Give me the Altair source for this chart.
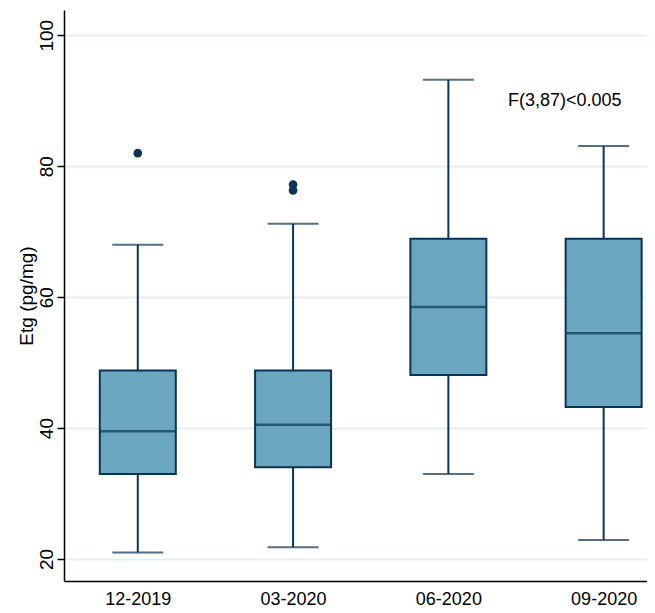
import altair as alt
import pandas as pd

categories = ["12-2019", "03-2020", "06-2020", "09-2020"]
positions = [1, 2, 3, 4]
lower = [21.0, 21.8, 33.0, 22.9]
q1 = [33.0, 34.0, 48.1, 43.2]
median = [39.5, 40.5, 58.5, 54.5]
q3 = [48.8, 48.8, 68.9, 68.9]
upper = [68.0, 71.2, 93.2, 83.1]

outlier_pos = [1, 2, 2]
outlier_val = [82.0, 77.2, 76.3]

ann_x = [3.75]
ann_y = [90.0]
ann_text = ["F(3,87)<0.005"]

y_ticks = [20, 40, 60, 80, 100]

FILL = "#6aa7be"
NAVY = "#0c3353"
GRID = "#e3eef2"
FONT = "Liberation Sans"

box = pd.DataFrame({"pos": positions, "cat": categories, "lower": lower, "q1": q1,
                    "median": median, "q3": q3, "upper": upper})
outl = pd.DataFrame({"pos": outlier_pos, "val": outlier_val})
ann = pd.DataFrame({"x": ann_x, "y": ann_y, "t": ann_text})

label_arr = "[" + ",".join("'" + c + "'" for c in categories) + "]"

xscale = alt.Scale(domain=[0.557, 4.247], nice=False, zero=False)
yscale = alt.Scale(domain=[16.64, 103.86], nice=False, zero=False)

xaxis = alt.Axis(values=positions, labelExpr=label_arr + "[datum.value-1]",
                 grid=False, ticks=False, domainColor="black", domainWidth=1.5,
                 labelFont=FONT, labelFontSize=18, labelColor="black",
                 labelPadding=9, labelFlush=False)
yaxis = alt.Axis(values=y_ticks, grid=True, gridColor=GRID, gridWidth=2,
                 domainColor="black", domainWidth=1.5, tickColor="black",
                 tickSize=7, tickWidth=1.5, labelAngle=270, labelAlign="center",
                 labelBaseline="alphabetic", labelPadding=5,
                 labelFont=FONT, labelFontSize=19, labelColor="black",
                 titleFont=FONT, titleFontSize=19, titleFontWeight="normal",
                 titleColor="black", titlePadding=1)
YT = "Etg (pg/mg)"


def X(field):
    return alt.X(field, scale=xscale, axis=xaxis, title=None)


def Y(field):
    return alt.Y(field, scale=yscale, axis=yaxis, title=YT)


base = alt.Chart(box)

whisk = base.mark_rule(color=NAVY, strokeWidth=2).encode(
    x=X("pos:Q"), y=Y("lower:Q"), y2="upper:Q")
bars = base.mark_bar(size=76, fill=FILL, stroke=NAVY, strokeWidth=2).encode(
    x=X("pos:Q"), y=Y("q1:Q"), y2="q3:Q")
cap_lo = base.mark_tick(orient="horizontal", size=51, thickness=2, color=NAVY).encode(
    x=X("pos:Q"), y=Y("lower:Q"))
cap_hi = base.mark_tick(orient="horizontal", size=51, thickness=2, color=NAVY).encode(
    x=X("pos:Q"), y=Y("upper:Q"))
med = base.mark_tick(orient="horizontal", size=76, thickness=2.5, color=NAVY).encode(
    x=X("pos:Q"), y=Y("median:Q"))
pts = alt.Chart(outl).mark_circle(size=75, color=NAVY, opacity=1).encode(
    x=X("pos:Q"), y=Y("val:Q"))
txt = alt.Chart(ann).mark_text(font=FONT, fontSize=18, color="black",
                               align="center", baseline="middle").encode(
    x=X("x:Q"), y=Y("y:Q"), text="t:N")

chart = alt.layer(whisk, bars, cap_lo, cap_hi, med, pts, txt).properties(
    width=583, height=571,
    autosize=alt.AutoSizeParams(type="none"),
    padding={"left": 56, "top": 2, "right": 0, "bottom": 30},
    background="white",
).configure_view(stroke=None)

chart.save("out.html", embed_options={"renderer": "svg", "actions": False})
